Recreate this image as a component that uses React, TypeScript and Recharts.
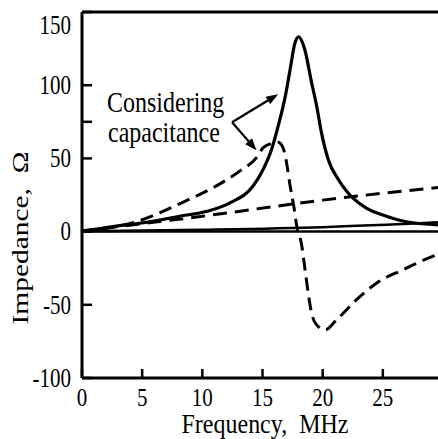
import React from 'react';
import { LineChart, Line, XAxis, YAxis, ReferenceLine } from 'recharts';

// Real part of impedance with capacitance (resonance peak)
const peakFreq = [0, 2.6, 5.4, 8.1, 10.4, 12.3, 14.2, 15.06, 15.75, 16.3, 16.9, 17.3, 17.7, 18.0, 18.5, 19.08, 19.5, 19.9, 20.46, 21.3, 22.1, 22.5, 23.6, 25.3, 27.2, 30];
const peakRe = [0, 3.4, 6.4, 10.5, 13.9, 19.6, 31, 42.5, 56, 72, 92.7, 111, 129, 133, 124.7, 101.8, 85.8, 67.6, 49.3, 35.6, 26.5, 23, 16.2, 10.5, 6.4, 4.5];

// Imaginary part with capacitance
const imFreq = [0, 2.5, 4.4, 6.5, 8.5, 10.9, 13.1, 14.5, 15.06, 16.0, 16.3, 16.7, 17.0, 17.3, 17.6, 17.85, 18.25, 18.5, 18.8, 19.08, 19.5, 20.2, 21.15, 22.8, 24.5, 26.7, 29.5, 30];
const imVal = [0, 3, 6.5, 13, 20.5, 30, 41.3, 50.5, 57.3, 60.7, 61, 57.3, 47, 31, 17.3, 3.6, -9, -23.8, -42, -55.7, -63.7, -67.1, -60.3, -46.6, -35.1, -26, -15.8, -14.5];

// Without capacitance: reactance and resistance
const plainFreq = [0, 10, 20, 30];
const plainX = [0.5, 10.5, 21.5, 30.5];
const plainR = [0.3, 1.3, 3, 6.5];

const xTicks = [0, 5, 10, 15, 20, 25];
const yTicks = [-100, -50, 0, 50, 75, 100, 150];

const toRows = (xs: number[], ys: number[]) => xs.map((f, i) => ({ f, v: ys[i] }));

const peakData = toRows(peakFreq, peakRe);
const imData = toRows(imFreq, imVal);
const reactData = toRows(plainFreq, plainX);
const resData = toRows(plainFreq, plainR);

const serif = { fontFamily: 'Liberation Serif, Tinos, Times New Roman, DejaVu Serif, serif' };

const YTick = ({ x, y, payload }: any) => {
  if (payload.value === 75) return <g />;
  const shift = payload.value === 150 ? 13 : 0;
  return (
    <g transform={`translate(${x},${y + shift}) scale(1,1.25)`}>
      <text x={0} y={7} textAnchor="end" fontSize={21} style={serif} fill="#000">
        {payload.value}
      </text>
    </g>
  );
};

const XTick = ({ x, y, payload }: any) => (
  <g transform={`translate(${x},${y}) scale(1,1.22)`}>
    <text x={0} y={0} textAnchor="middle" fontSize={21} style={serif} fill="#000">
      {payload.value}
    </text>
  </g>
);

const Arrow = (p: any) => {
  const { x1, y1, x2, y2 } = p;
  const a = Math.atan2(y2 - y1, x2 - x1);
  const len = 12;
  const half = 4.5;
  const bx = x2 - len * Math.cos(a);
  const by = y2 - len * Math.sin(a);
  const pts = [
    `${x2},${y2}`,
    `${bx + half * Math.sin(a)},${by - half * Math.cos(a)}`,
    `${bx - half * Math.sin(a)},${by + half * Math.cos(a)}`,
  ].join(' ');
  return (
    <g>
      <line x1={x1} y1={y1} x2={bx} y2={by} stroke="#000" strokeWidth={2.2} />
      <polygon points={pts} fill="#000" />
    </g>
  );
};

export default function App() {
  return (
    <div style={{ position: 'absolute', left: 0, top: 0, width: 438, height: 439, overflow: 'hidden', background: '#fff' }}>
      <LineChart width={450} height={439} margin={{ top: 12, right: 7, bottom: 0, left: 0 }}>
        <XAxis
          dataKey="f"
          type="number"
          domain={[0, 30]}
          ticks={xTicks}
          height={61}
          tickSize={-9}
          tickMargin={37}
          tick={<XTick />}
          axisLine={{ stroke: '#000', strokeWidth: 3 }}
          tickLine={{ stroke: '#000', strokeWidth: 2.5 }}
          allowDataOverflow
        />
        <YAxis
          type="number"
          domain={[-100, 150]}
          ticks={yTicks}
          width={82}
          tickSize={-10}
          tickMargin={21}
          tick={<YTick />}
          axisLine={{ stroke: '#000', strokeWidth: 3 }}
          tickLine={{ stroke: '#000', strokeWidth: 2.5 }}
          allowDataOverflow
        />
        <ReferenceLine y={150} stroke="#000" strokeWidth={3} />
        <ReferenceLine y={0} stroke="#000" strokeWidth={2.5} />
        <Line data={resData} dataKey="v" type="monotone" stroke="#000" strokeWidth={2.5} dot={false} activeDot={false} isAnimationActive={false} />
        <Line data={reactData} dataKey="v" type="monotone" stroke="#000" strokeWidth={3} strokeDasharray="14 8" dot={false} activeDot={false} isAnimationActive={false} />
        <Line data={imData} dataKey="v" type="monotone" stroke="#000" strokeWidth={3} strokeDasharray="13 7" dot={false} activeDot={false} isAnimationActive={false} />
        <Line data={peakData} dataKey="v" type="monotone" stroke="#000" strokeWidth={3.2} dot={false} activeDot={false} isAnimationActive={false} />
        <ReferenceLine segment={[{ x: 12.47, y: 74.7 }, { x: 16.3, y: 93.8 }]} shape={Arrow} />
        <ReferenceLine segment={[{ x: 12.47, y: 74.7 }, { x: 14.5, y: 55.5 }]} shape={Arrow} />
      </LineChart>
      <svg width={438} height={439} style={{ position: 'absolute', left: 0, top: 0, pointerEvents: 'none' }}>
        <g style={serif} fill="#000">
          <text transform="translate(107,112) scale(1,1.25)" fontSize={24} style={serif}>Considering</text>
          <text transform="translate(108,142) scale(1,1.25)" fontSize={24} style={serif}>capacitance</text>
          <text transform="translate(265,433) scale(1,1.1)" textAnchor="middle" fontSize={24} style={{ ...serif, whiteSpace: 'pre' }}>
            {'Frequency,  MHz'}
          </text>
          <text transform="translate(28,238) rotate(-90) scale(1.28,1)" textAnchor="middle" fontSize={23} style={{ ...serif, whiteSpace: 'pre' }}>
            {'Impedance,  \u03A9'}
          </text>
        </g>
      </svg>
    </div>
  );
}
